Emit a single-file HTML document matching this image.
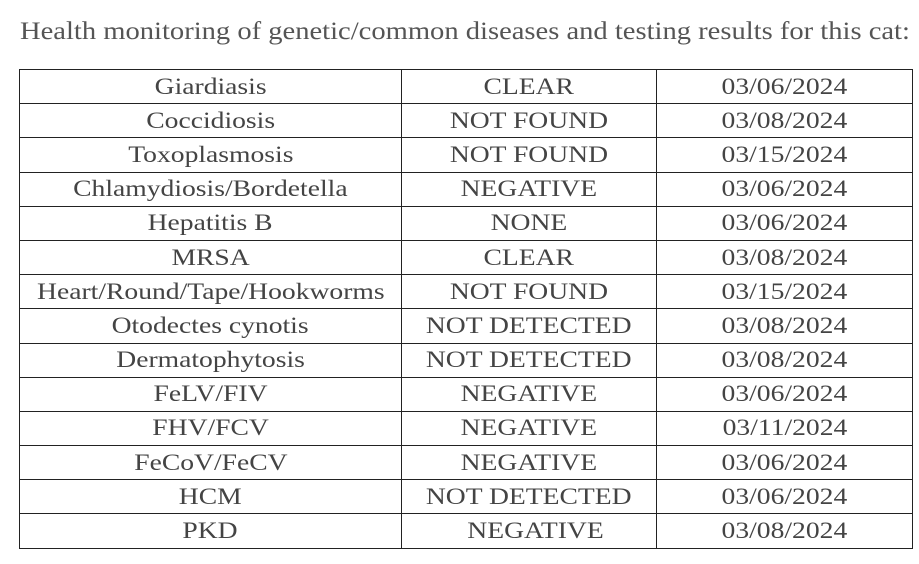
<!DOCTYPE html>
<html><head><meta charset="utf-8"><style>
html,body{margin:0;padding:0;background:#fff;width:919px;height:564px;overflow:hidden;}
body{font-family:"Liberation Serif",serif;color:#4a4a4a;position:relative;}
h1{position:absolute;left:20px;top:14px;margin:0;font-weight:normal;font-size:25.5px;line-height:34px;white-space:nowrap;color:#555;transform:scaleX(1.12);transform-origin:0 50%;}
table{position:absolute;left:19px;top:69px;border-collapse:collapse;width:894px;}
td{border:1.5px solid #222;height:33.2px;padding:0;text-align:center;font-size:23px;line-height:32px;color:#444;white-space:nowrap;}
td span{display:inline-block;transform:scaleX(1.2);}
td.c1{width:381px;}td.c2{width:254px;}
</style></head><body>
<h1>Health monitoring of genetic/common diseases and testing results for this cat:</h1>
<table><tbody>
<tr><td class="c1"><span>Giardiasis</span></td><td class="c2"><span>CLEAR</span></td><td><span>03/06/2024</span></td></tr>
<tr><td class="c1"><span>Coccidiosis</span></td><td class="c2"><span>NOT FOUND</span></td><td><span>03/08/2024</span></td></tr>
<tr><td class="c1"><span>Toxoplasmosis</span></td><td class="c2"><span>NOT FOUND</span></td><td><span>03/15/2024</span></td></tr>
<tr><td class="c1"><span>Chlamydiosis/Bordetella</span></td><td class="c2"><span>NEGATIVE</span></td><td><span>03/06/2024</span></td></tr>
<tr><td class="c1"><span>Hepatitis B</span></td><td class="c2"><span>NONE</span></td><td><span>03/06/2024</span></td></tr>
<tr><td class="c1"><span>MRSA</span></td><td class="c2"><span>CLEAR</span></td><td><span>03/08/2024</span></td></tr>
<tr><td class="c1"><span>Heart/Round/Tape/Hookworms</span></td><td class="c2"><span>NOT FOUND</span></td><td><span>03/15/2024</span></td></tr>
<tr><td class="c1"><span>Otodectes cynotis</span></td><td class="c2"><span>NOT DETECTED</span></td><td><span>03/08/2024</span></td></tr>
<tr><td class="c1"><span>Dermatophytosis</span></td><td class="c2"><span>NOT DETECTED</span></td><td><span>03/08/2024</span></td></tr>
<tr><td class="c1"><span>FeLV/FIV</span></td><td class="c2"><span>NEGATIVE</span></td><td><span>03/06/2024</span></td></tr>
<tr><td class="c1"><span>FHV/FCV</span></td><td class="c2"><span>NEGATIVE</span></td><td><span>03/11/2024</span></td></tr>
<tr><td class="c1"><span>FeCoV/FeCV</span></td><td class="c2"><span>NEGATIVE</span></td><td><span>03/06/2024</span></td></tr>
<tr><td class="c1"><span>HCM</span></td><td class="c2"><span>NOT DETECTED</span></td><td><span>03/06/2024</span></td></tr>
<tr><td class="c1"><span>PKD</span></td><td class="c2"><span>&nbsp;&nbsp;NEGATIVE</span></td><td><span>03/08/2024</span></td></tr>
</tbody></table>
</body></html>
